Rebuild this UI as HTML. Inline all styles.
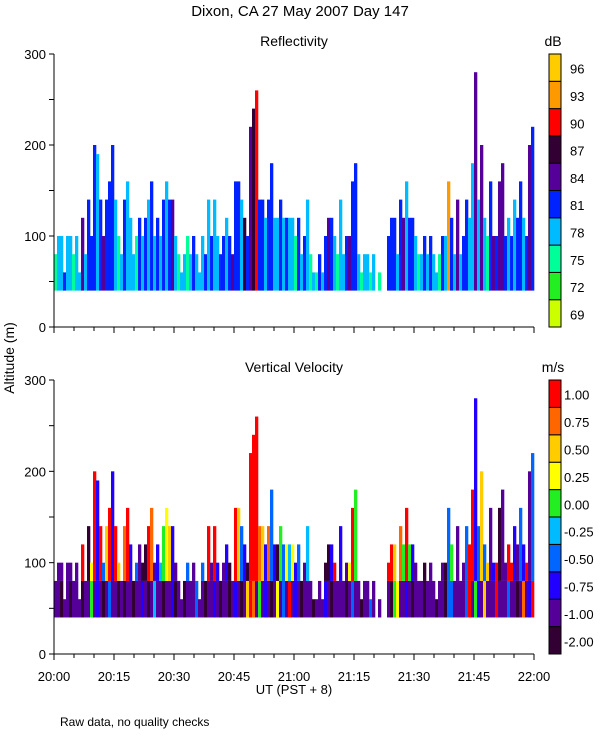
<!DOCTYPE html>
<html><head><meta charset="utf-8"><style>
body{margin:0;background:#fff;width:600px;height:750px;overflow:hidden}
svg text{font-family:"Liberation Sans",sans-serif;fill:#000}
</style></head><body>
<svg id="chart" width="600" height="750" viewBox="0 0 600 750" xmlns="http://www.w3.org/2000/svg">
<text x="300" y="16" text-anchor="middle" font-size="15">Dixon, CA 27 May 2007  Day 147</text>
<text x="294" y="46" text-anchor="middle" font-size="14">Reflectivity</text>
<text x="294" y="372" text-anchor="middle" font-size="14">Vertical Velocity</text>
<text x="0" y="0" transform="translate(14,358) rotate(-90)" text-anchor="middle" font-size="14">Altitude (m)</text>
<text x="294" y="694" text-anchor="middle" font-size="13">UT  (PST + 8)</text>
<text x="60" y="726" font-size="12">Raw data, no quality checks</text>
<text x="553" y="46" text-anchor="middle" font-size="14">dB</text>
<text x="553" y="372" text-anchor="middle" font-size="14">m/s</text>
</svg>
<script>
// ---- data: one column per 45 s from 20:00 to 22:00 ----
const startMin = 0, endMin = 120;
const tops = [80,100,100,60,100,100,80,100,60,120,80,140,100,200,190,140,100,140,160,200,140,100,80,140,160,120,80,100,120,100,120,140,160,100,120,100,140,160,140,140,100,80,60,80,100,80,100,80,60,100,80,140,100,140,100,80,100,120,100,80,160,160,140,120,100,220,240,260,140,140,120,140,180,120,120,140,120,120,120,120,100,120,80,100,140,80,60,60,80,60,100,120,120,100,80,140,80,100,100,160,180,80,60,80,80,60,80,0,60,0,0,100,120,120,80,140,120,160,120,120,100,80,80,100,80,100,80,60,80,100,100,160,120,80,140,80,100,140,120,180,280,140,200,120,100,160,100,100,160,180,100,120,100,140,120,160,120,100,200,220];
const reflDb = [75,78,78,81,78,78,75,78,78,84,78,81,81,81,78,81,84,81,81,81,78,75,78,81,78,78,78,75,81,78,81,78,81,78,81,78,81,78,81,84,78,75,78,78,75,78,81,78,78,78,81,78,81,78,78,81,81,78,81,84,81,81,78,87,81,84,87,90,81,81,78,81,81,78,78,81,78,81,78,78,75,81,78,81,78,75,78,75,81,78,81,84,81,78,75,78,78,81,84,81,81,78,75,78,78,75,78,78,75,78,78,81,81,81,78,81,84,78,81,81,78,75,78,81,78,81,78,78,75,81,78,93,81,78,84,78,81,81,78,78,84,78,84,78,75,81,84,81,84,84,81,78,81,78,81,81,78,81,84,81];
const wLow = [-1,-1,-1.5,-1,-1,-1.5,-1,-1,-1,-1.5,-1,-1,0.2,-1,-0.6,-1,-1.5,-1,-0.4,-1,-1,-1.5,-1,-1.5,-1,-1,-1.5,-1,-1,-0.7,-1,-1.5,-1,-0.2,-1,-1,-1.5,-1,-1,-0.6,-1.5,-1,-1,-1.5,-1,-1,-1,-0.3,-1,-1,-1.5,-1,-1,-0.7,-1,-1.5,-1,-1,-1.5,-1,-0.7,-1,-1.5,-1,0.6,1.1,0.9,-1,0.2,-1,-0.7,-1,-1.5,-1,0.3,-1,-0.3,-1,1.1,-1,-0.6,-1,-1.5,-1,-1,-1,-1.5,-1,-1,-1,-0.7,-1,-1.5,-1,-1,-1,-1,-1.5,-1,-0.4,-1,-1,-1.5,-1,-1,-0.3,-1,-1,-1,-1,-1,-1,-1.5,0.1,0.4,-1,-1,-0.6,-1,-1.5,-1,-1,-1,-1.5,-1,-1,-1,-1.5,-1,-1,-1.5,-0.3,-0.3,-1,-1,-1,-1,-0.3,1.1,-1,0.1,-0.6,-1,0.6,-1,-1,-1,1.1,-1,-1,-1,-0.4,-1,-1,-1.5,-1,0.8,-1,-0.7];
const wHigh = [-1,-1,-1,-1,-1,-1,-1,-1,-1,1.1,-1,-1.5,0.3,1.1,-0.7,1.1,-0.3,0.6,1.1,-0.7,1.1,0.5,-1,0.9,1.1,-0.6,-1,-0.3,-1,-1.5,-1.5,1.1,0.9,-1,-0.7,-0.2,0.1,0.3,0.5,-0.7,-1,-1,-1,-1,-0.3,-1,-1,-1,-1,-0.3,-1,1.1,-1,1.1,-0.7,-1,-1,-0.7,-1.5,-1,1.1,0.6,-0.3,-0.7,-1.5,1.1,1.1,1.1,0.9,0.6,-0.7,0.9,-0.3,-0.6,-1.5,0.1,-0.3,0.4,-0.2,0.4,-0.6,-0.3,-1,-1,-0.2,-1,-1,-1,-1,-1,-1.5,-1.5,-0.7,1.1,-1,-0.6,-1,-1,0.3,1.1,0.1,-1,-1,-1.5,-1.5,-1,-1,-1,-1,-1,-1,1.1,1.1,0.5,-1,0.9,0.1,1.1,0.2,-0.6,-1,-1,-1,-1.5,-1,-1,-1,-1,-1,-1,-1.5,-0.3,0.1,0.9,-1,0.9,-1,-0.3,1.1,1.1,-0.6,-0.3,0.6,-0.4,0.5,-1,-0.7,1.1,-1.5,-1,-1,1.1,1.1,-0.6,-1,-0.3,-0.7,1.1,-1,-0.3,0.6,0.1];
const reflLevels = [69,72,75,78,81,84,87,90,93,96,99];
const reflColors = ["#ccff00","#22ee22","#00ff99","#00bbff","#0022ff","#550099","#330033","#ff0000","#ff9900","#ffcc00"];
const velLevels = [-2,-1,-0.75,-0.5,-0.25,0,0.25,0.5,0.75,1,1.25];
const velColors = ["#330033","#550099","#2200ff","#0066ff","#00bbff","#22ee22","#ffff00","#ffcc00","#ff6600","#ff0000"];
const reflTickLabels = ["69","72","75","78","81","84","87","90","93","96"];
const velTickLabels = ["-2.00","-1.00","-0.75","-0.50","-0.25","0.00","0.25","0.50","0.75","1.00"];
const altTicks = [0,100,200,300];
const timeLabels = ["20:00","20:15","20:30","20:45","21:00","21:15","21:30","21:45","22:00"];
const baseAlt = 40;

const svg = document.getElementById('chart');
const NS = 'http://www.w3.org/2000/svg';
const X0 = 54, X1 = 534;
const panels = [{top:54,bot:327},{top:380,bot:654}];
function xScale(m){return X0 + (m-startMin)/(endMin-startMin)*(X1-X0);}
function yScale(p,v){return p.bot - v/300*(p.bot-p.top);}
function mk(tag,attrs){const e=document.createElementNS(NS,tag);for(const k in attrs)e.setAttribute(k,attrs[k]);svg.appendChild(e);return e;}
function colorFor(v,levels,colors){for(let k=0;k<colors.length;k++){if(v<levels[k+1])return colors[k];}return colors[colors.length-1];}

const n = tops.length, dt = (endMin-startMin)/n;
for(let i=0;i<n;i++){
  if(tops[i]<=baseAlt) continue;
  const xa=xScale(startMin+i*dt), xb=xScale(startMin+(i+1)*dt);
  // reflectivity
  const p=panels[0];
  const r=mk('rect',{x:xa,y:yScale(p,tops[i]),width:xb-xa+0.3,height:yScale(p,baseAlt)-yScale(p,tops[i]),fill:colorFor(reflDb[i],reflLevels,reflColors)});
  
  
  // velocity low part
  const q=panels[1];
  const mid=Math.min(tops[i],80);
  const a=mk('rect',{x:xa,y:yScale(q,mid),width:xb-xa+0.3,height:yScale(q,baseAlt)-yScale(q,mid),fill:colorFor(wLow[i],velLevels,velColors)});
  
  
  if(tops[i]>80){
    const b=mk('rect',{x:xa,y:yScale(q,tops[i]),width:xb-xa+0.3,height:yScale(q,80)-yScale(q,tops[i]),fill:colorFor(wHigh[i],velLevels,velColors)});
    
    
  }
}

panels.forEach((p,pi)=>{
  const ax=mk('path',{d:`M${X0},${p.top}V${p.bot}H${X1}`,fill:'none',stroke:'#000','stroke-width':1});
  
  
  for(let v=0;v<=300;v+=50){
    const t=mk('line',{x1:X0-5,x2:X0,y1:yScale(p,v),y2:yScale(p,v),stroke:'#000'});
    
    
  }
  altTicks.forEach(v=>{
    const t=mk('text',{x:X0-8,y:yScale(p,v)+5,'text-anchor':'end','font-size':13});
    t.textContent=v;
    
    
  });
  for(let m=startMin;m<=endMin;m+=5){
    const t=mk('line',{x1:xScale(m),x2:xScale(m),y1:p.bot,y2:p.bot+(m%15===0?6:4),stroke:'#000'});
    
    
  }
  // colorbar
  const levels = pi===0?reflColors:velColors, labs = pi===0?reflTickLabels:velTickLabels;
  const cbh=(p.bot-p.top)/levels.length;
  levels.forEach((c,k)=>{
    const y=p.bot-(k+1)*cbh;
    const r=mk('rect',{x:549,y:y,width:12,height:cbh,fill:c,stroke:'#000','stroke-width':1});
    
    
    const t=mk('text',{x:pi===0?570:564,y:y+cbh*0.72,'font-size':13});
    t.textContent=labs[k];
    
    
  });
});
timeLabels.forEach((s,k)=>{
  const t=mk('text',{x:xScale(k*15),y:681,'text-anchor':'middle','font-size':13});
  t.textContent=s;
  
  
});
</script>
</body></html>
